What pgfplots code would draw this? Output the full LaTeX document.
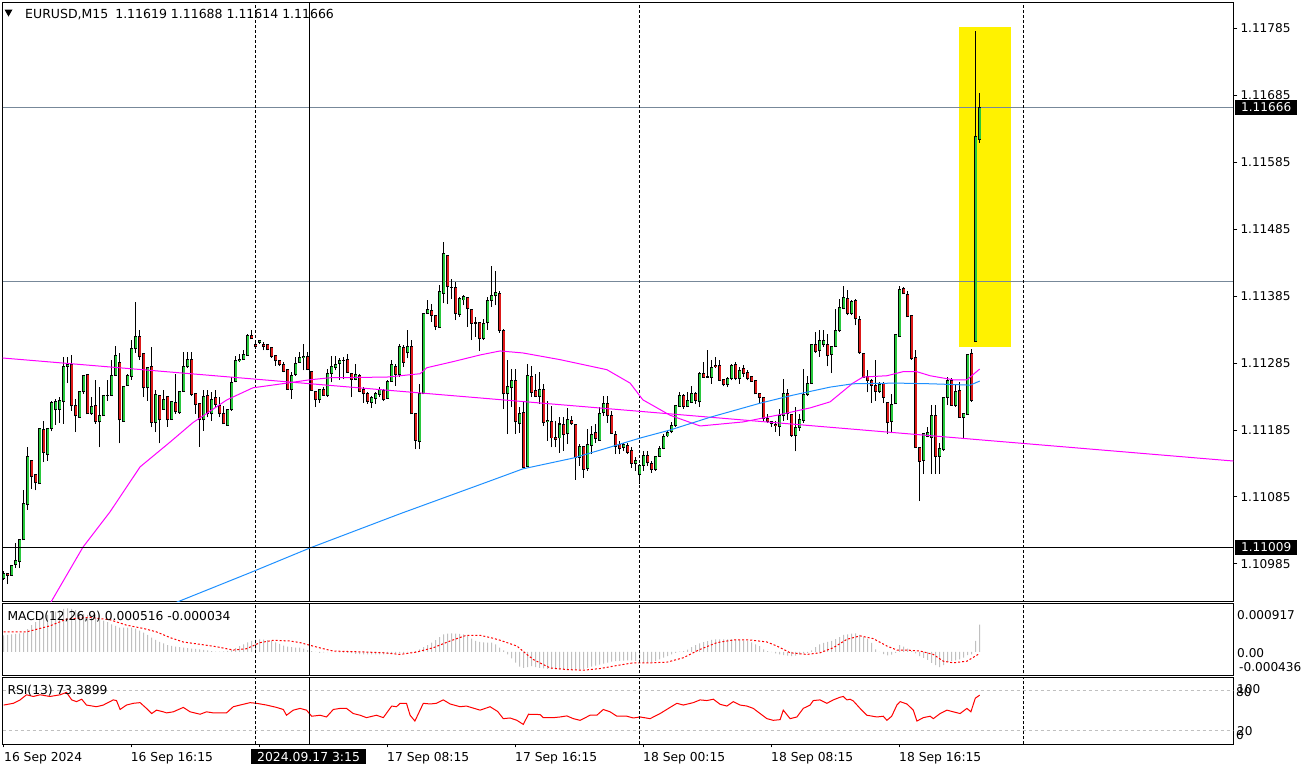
\documentclass[border=0pt]{standalone}
\usepackage{fontspec}
\setmainfont{DejaVu Sans}
\usepackage{pgfplots}
\usepackage{pgfplotstable}
\pgfplotsset{compat=1.18}
\definecolor{bullc}{RGB}{40,200,60}
\definecolor{bearc}{RGB}{220,25,25}
\definecolor{maP}{RGB}{255,0,255}
\definecolor{maB}{RGB}{30,144,255}
\definecolor{histc}{RGB}{192,192,192}
\definecolor{lineg}{RGB}{119,136,153}

\pgfplotstableread{
i o h l c
0 1.10963 1.10974 1.10961 1.10971
1 1.10971 1.10972 1.10955 1.10968
2 1.10968 1.10983 1.10968 1.10983
3 1.10984 1.11016 1.10979 1.10991
4 1.10988 1.11021 1.10979 1.11021
5 1.11021 1.11096 1.11021 1.11075
6 1.11074 1.11159 1.11066 1.11145
7 1.11140 1.11140 1.11097 1.11116
8 1.11118 1.11118 1.11095 1.11106
9 1.11105 1.11187 1.11105 1.11187
10 1.11186 1.11198 1.11137 1.11151
11 1.11149 1.11188 1.11139 1.11188
12 1.11187 1.11228 1.11183 1.11226
13 1.11215 1.11232 1.11193 1.11228
14 1.11216 1.11234 1.11196 1.11229
15 1.11227 1.11294 1.11194 1.11280
16 1.11280 1.11294 1.11255 1.11283
17 1.11283 1.11297 1.11214 1.11221
18 1.11221 1.11232 1.11182 1.11206
19 1.11204 1.11242 1.11204 1.11242
20 1.11242 1.11267 1.11239 1.11267
21 1.11268 1.11269 1.11209 1.11209
22 1.11209 1.11234 1.11208 1.11220
23 1.11221 1.11259 1.11194 1.11197
24 1.11197 1.11249 1.11159 1.11206
25 1.11206 1.11236 1.11206 1.11236
26 1.11236 1.11259 1.11229 1.11237
27 1.11237 1.11289 1.11237 1.11267
28 1.11267 1.11310 1.11267 1.11296
29 1.11286 1.11300 1.11165 1.11200
30 1.11198 1.11250 1.11198 1.11250
31 1.11251 1.11269 1.11251 1.11266
32 1.11265 1.11320 1.11260 1.11306
33 1.11306 1.11376 1.11300 1.11325
34 1.11325 1.11335 1.11290 1.11294
35 1.11299 1.11299 1.11234 1.11248
36 1.11248 1.11278 1.11229 1.11278
37 1.11280 1.11309 1.11189 1.11196
38 1.11196 1.11244 1.11182 1.11238
39 1.11236 1.11236 1.11165 1.11200
40 1.11216 1.11244 1.11215 1.11230
41 1.11235 1.11235 1.11190 1.11200
42 1.11201 1.11228 1.11201 1.11228
43 1.11226 1.11269 1.11209 1.11212
44 1.11211 1.11243 1.11209 1.11243
45 1.11243 1.11302 1.11243 1.11280
46 1.11279 1.11302 1.11278 1.11291
47 1.11290 1.11302 1.11236 1.11238
48 1.11239 1.11239 1.11209 1.11223
49 1.11224 1.11224 1.11160 1.11200
50 1.11200 1.11244 1.11184 1.11235
51 1.11236 1.11244 1.11204 1.11209
52 1.11209 1.11241 1.11199 1.11231
53 1.11233 1.11244 1.11219 1.11223
54 1.11221 1.11234 1.11204 1.11209
55 1.11209 1.11221 1.11194 1.11194
56 1.11192 1.11216 1.11192 1.11216
57 1.11215 1.11264 1.11214 1.11256
58 1.11257 1.11296 1.11256 1.11289
59 1.11288 1.11299 1.11286 1.11291
60 1.11290 1.11304 1.11290 1.11298
61 1.11296 1.11329 1.11296 1.11326
62 1.11326 1.11334 1.11321 1.11321
63 1.11313 1.11316 1.11306 1.11309
64 1.11316 1.11320 1.11314 1.11319
65 1.11312 1.11316 1.11304 1.11310
66 1.11312 1.11314 1.11304 1.11305
67 1.11308 1.11308 1.11293 1.11295
68 1.11296 1.11296 1.11281 1.11288
69 1.11289 1.11289 1.11281 1.11282
70 1.11283 1.11286 1.11271 1.11273
71 1.11275 1.11275 1.11246 1.11246
72 1.11246 1.11271 1.11232 1.11267
73 1.11268 1.11294 1.11266 1.11285
74 1.11286 1.11301 1.11286 1.11294
75 1.11293 1.11314 1.11274 1.11295
76 1.11295 1.11301 1.11274 1.11275
77 1.11273 1.11273 1.11244 1.11244
78 1.11242 1.11242 1.11219 1.11230
79 1.11230 1.11246 1.11226 1.11246
80 1.11246 1.11249 1.11236 1.11237
81 1.11237 1.11276 1.11235 1.11269
82 1.11270 1.11296 1.11256 1.11280
83 1.11278 1.11295 1.11274 1.11283
84 1.11284 1.11293 1.11260 1.11289
85 1.11289 1.11294 1.11261 1.11289
86 1.11290 1.11299 1.11270 1.11271
87 1.11270 1.11270 1.11234 1.11261
88 1.11261 1.11284 1.11259 1.11268
89 1.11266 1.11269 1.11241 1.11243
90 1.11245 1.11249 1.11226 1.11239
91 1.11239 1.11241 1.11224 1.11228
92 1.11226 1.11236 1.11218 1.11233
93 1.11232 1.11241 1.11224 1.11239
94 1.11238 1.11249 1.11234 1.11245
95 1.11244 1.11246 1.11228 1.11231
96 1.11232 1.11259 1.11231 1.11258
97 1.11258 1.11290 1.11257 1.11283
98 1.11280 1.11284 1.11251 1.11268
99 1.11268 1.11314 1.11264 1.11309
100 1.11308 1.11312 1.11279 1.11286
101 1.11300 1.11335 1.11292 1.11310
102 1.11310 1.11319 1.11209 1.11209
103 1.11210 1.11210 1.11156 1.11170
104 1.11168 1.11253 1.11156 1.11239
105 1.11239 1.11360 1.11238 1.11359
106 1.11359 1.11379 1.11358 1.11365
107 1.11364 1.11373 1.11346 1.11356
108 1.11356 1.11357 1.11334 1.11339
109 1.11338 1.11401 1.11338 1.11392
110 1.11389 1.11465 1.11374 1.11449
111 1.11445 1.11446 1.11373 1.11399
112 1.11398 1.11411 1.11381 1.11398
113 1.11398 1.11406 1.11349 1.11359
114 1.11358 1.11384 1.11354 1.11381
115 1.11379 1.11386 1.11371 1.11385
116 1.11383 1.11384 1.11339 1.11366
117 1.11365 1.11365 1.11319 1.11344
118 1.11344 1.11354 1.11324 1.11343
119 1.11345 1.11346 1.11303 1.11321
120 1.11321 1.11351 1.11319 1.11344
121 1.11345 1.11384 1.11335 1.11378
122 1.11378 1.11430 1.11369 1.11386
123 1.11385 1.11422 1.11371 1.11391
124 1.11389 1.11392 1.11330 1.11334
125 1.11334 1.11336 1.11216 1.11239
126 1.11239 1.11290 1.11179 1.11250
127 1.11248 1.11276 1.11219 1.11259
128 1.11259 1.11276 1.11179 1.11197
129 1.11195 1.11219 1.11181 1.11210
130 1.11211 1.11229 1.11129 1.11129
131 1.11131 1.11284 1.11131 1.11266
132 1.11265 1.11281 1.11234 1.11241
133 1.11244 1.11269 1.11234 1.11235
134 1.11235 1.11271 1.11224 1.11245
135 1.11246 1.11254 1.11191 1.11196
136 1.11197 1.11229 1.11169 1.11199
137 1.11198 1.11221 1.11159 1.11173
138 1.11174 1.11199 1.11159 1.11171
139 1.11173 1.11204 1.11151 1.11194
140 1.11194 1.11204 1.11154 1.11178
141 1.11179 1.11218 1.11164 1.11200
142 1.11199 1.11206 1.11193 1.11194
143 1.11194 1.11194 1.11111 1.11144
144 1.11144 1.11164 1.11131 1.11160
145 1.11160 1.11161 1.11114 1.11126
146 1.11127 1.11186 1.11124 1.11163
147 1.11162 1.11191 1.11149 1.11179
148 1.11181 1.11194 1.11166 1.11172
149 1.11170 1.11219 1.11169 1.11210
150 1.11211 1.11236 1.11206 1.11225
151 1.11224 1.11236 1.11196 1.11206
152 1.11207 1.11214 1.11179 1.11180
153 1.11179 1.11184 1.11149 1.11161
154 1.11163 1.11169 1.11149 1.11157
155 1.11159 1.11166 1.11153 1.11163
156 1.11162 1.11166 1.11149 1.11152
157 1.11154 1.11159 1.11129 1.11135
158 1.11135 1.11144 1.11124 1.11139
159 1.11118 1.11134 1.11104 1.11132
160 1.11132 1.11154 1.11124 1.11147
161 1.11147 1.11154 1.11131 1.11136
162 1.11135 1.11139 1.11121 1.11126
163 1.11126 1.11146 1.11124 1.11146
164 1.11146 1.11161 1.11145 1.11157
165 1.11158 1.11179 1.11156 1.11176
166 1.11176 1.11185 1.11174 1.11182
167 1.11182 1.11197 1.11180 1.11192
168 1.11191 1.11221 1.11189 1.11221
169 1.11220 1.11242 1.11219 1.11237
170 1.11237 1.11239 1.11217 1.11220
171 1.11220 1.11241 1.11219 1.11229
172 1.11226 1.11250 1.11225 1.11239
173 1.11240 1.11241 1.11224 1.11229
174 1.11227 1.11271 1.11219 1.11270
175 1.11270 1.11286 1.11264 1.11264
176 1.11264 1.11305 1.11263 1.11265
177 1.11264 1.11289 1.11254 1.11279
178 1.11281 1.11294 1.11277 1.11279
179 1.11281 1.11289 1.11258 1.11259
180 1.11260 1.11261 1.11250 1.11253
181 1.11253 1.11264 1.11249 1.11262
182 1.11262 1.11284 1.11259 1.11282
183 1.11283 1.11287 1.11259 1.11262
184 1.11262 1.11279 1.11254 1.11274
185 1.11277 1.11282 1.11264 1.11270
186 1.11271 1.11274 1.11259 1.11262
187 1.11265 1.11266 1.11257 1.11258
188 1.11259 1.11260 1.11239 1.11239
189 1.11239 1.11240 1.11226 1.11234
190 1.11233 1.11234 1.11199 1.11202
191 1.11202 1.11209 1.11196 1.11198
192 1.11198 1.11199 1.11189 1.11194
193 1.11194 1.11199 1.11182 1.11192
194 1.11190 1.11216 1.11176 1.11206
195 1.11206 1.11261 1.11199 1.11239
196 1.11240 1.11246 1.11200 1.11209
197 1.11208 1.11209 1.11175 1.11177
198 1.11177 1.11219 1.11153 1.11189
199 1.11188 1.11209 1.11184 1.11200
200 1.11199 1.11276 1.11196 1.11238
201 1.11238 1.11266 1.11236 1.11254
202 1.11255 1.11314 1.11254 1.11313
203 1.11313 1.11331 1.11300 1.11302
204 1.11303 1.11334 1.11294 1.11318
205 1.11312 1.11334 1.11309 1.11318
206 1.11313 1.11329 1.11280 1.11296
207 1.11298 1.11310 1.11270 1.11310
208 1.11310 1.11366 1.11310 1.11334
209 1.11333 1.11380 1.11331 1.11368
210 1.11367 1.11400 1.11365 1.11383
211 1.11381 1.11394 1.11356 1.11359
212 1.11359 1.11379 1.11356 1.11377
213 1.11379 1.11380 1.11341 1.11351
214 1.11350 1.11355 1.11299 1.11300
215 1.11299 1.11299 1.11263 1.11264
216 1.11265 1.11274 1.11241 1.11259
217 1.11259 1.11261 1.11226 1.11251
218 1.11251 1.11289 1.11229 1.11243
219 1.11243 1.11256 1.11240 1.11253
220 1.11254 1.11256 1.11225 1.11234
221 1.11226 1.11226 1.11179 1.11196
222 1.11198 1.11239 1.11180 1.11223
223 1.11224 1.11328 1.11224 1.11328
224 1.11325 1.11400 1.11325 1.11395
225 1.11396 1.11398 1.11388 1.11388
226 1.11388 1.11393 1.11354 1.11354
227 1.11356 1.11356 1.11290 1.11291
228 1.11293 1.11304 1.11158 1.11159
229 1.11159 1.11159 1.11079 1.11138
230 1.11140 1.11181 1.11119 1.11180
231 1.11175 1.11189 1.11174 1.11182
232 1.11174 1.11222 1.11119 1.11206
233 1.11206 1.11222 1.11119 1.11146
234 1.11146 1.11166 1.11120 1.11158
235 1.11156 1.11234 1.11154 1.11234
236 1.11234 1.11264 1.11222 1.11259
237 1.11259 1.11262 1.11222 1.11222
238 1.11222 1.11254 1.11219 1.11243
239 1.11244 1.11256 1.11203 1.11204
240 1.11204 1.11209 1.11171 1.11209
241 1.11208 1.11298 1.11208 1.11298
242 1.11299 1.11306 1.11227 1.11229
243 1.11317 1.11780 1.11317 1.11623
244 1.11619 1.11688 1.11614 1.11666
}\candles

\pgfplotsset{
  chartpanel/.style={scale only axis, anchor=north west, width=1230.8pt,
    xmin=-0.3, xmax=307.4, axis line style={line width=1pt},
    tick style={black, line width=1pt}},
  sepline/.style={black, line width=1pt, dash pattern=on 3pt off 2pt},
}

\begin{document}
\begin{tikzpicture}
\begin{axis}[chartpanel, at={(2.5pt,-2.5pt)}, height=599.2pt,
  ymin=1.109287, ymax=1.118231, xtick=\empty,
  ytick={1.10985,1.11085,1.11185,1.11285,1.11385,1.11485,1.11585,1.11685,1.11785},
  yticklabels={1.10985,1.11085,1.11185,1.11285,1.11385,1.11485,1.11585,1.11685,1.11785},
  ytick pos=right, yticklabel pos=right, tick align=outside, major tick length=4pt,
  yticklabel style={anchor=west, inner sep=0pt, xshift=3pt, font=\fontsize{12.1}{14}\selectfont}]
% highlight rectangle
\addplot[fill=yellow, draw=none] coordinates {(238.8,1.113093) (251.8,1.113093) (251.8,1.117869) (238.8,1.117869)} -- cycle;
% horizontal lines
\addplot[lineg, line width=1pt] coordinates {(-0.3,1.11666) (307.4,1.11666)};
\addplot[lineg, line width=1pt] coordinates {(-0.3,1.11406) (307.4,1.11406)};
% period separators and crosshair
\addplot[sepline] coordinates {(63,1.1092) (63,1.1183)};
\addplot[sepline] coordinates {(158.9,1.1092) (158.9,1.1183)};
\addplot[sepline] coordinates {(254.9,1.1092) (254.9,1.1183)};
\addplot[black, line width=1pt] coordinates {(76.4,1.1092) (76.4,1.1183)};
% candles: wicks
\addplot[black, line width=1pt, -, quiver={u=0, v={\thisrow{h}-\thisrow{l}}}]
  table[x=i, y=l] {\candles};
% bodies outline
\addplot[black, line width=3.4pt, -, quiver={u=0, v={abs(\thisrow{c}-\thisrow{o})+0.000014}}]
  table[x=i, y expr={min(\thisrow{o},\thisrow{c})-0.000007}] {\candles};
% bull fill
\addplot[bullc, line width=1.6pt, -, quiver={u=0, v={ifthenelse(\thisrow{c}>\thisrow{o}, max(\thisrow{c}-\thisrow{o}-0.000016,0), 0)}}]
  table[x=i, y expr={min(\thisrow{o},\thisrow{c})+0.000008}] {\candles};
% bear fill
\addplot[bearc, line width=1.6pt, -, quiver={u=0, v={ifthenelse(\thisrow{c}<\thisrow{o}, max(\thisrow{o}-\thisrow{c}-0.000016,0), 0)}}]
  table[x=i, y expr={min(\thisrow{o},\thisrow{c})+0.000008}] {\candles};
% trend line
\addplot[maP, line width=1pt] coordinates {(-0.3,1.112925) (307.4,1.111387)};
% moving average (magenta)
\addplot[maP, line width=1pt] coordinates {
(9.1,1.10901) (12.1,1.10931) (19.8,1.11010) (26.6,1.11063) (34.1,1.11130) (41.6,1.11167)
(47.3,1.11196) (55.8,1.11230) (62.3,1.11248) (70.8,1.11255) (76.6,1.11260) (81.6,1.11263)
(95.8,1.11264) (104.1,1.11269) (105.8,1.11278) (112.3,1.11287) (119.1,1.11297) (124.1,1.11303)
(129.8,1.11300) (139.1,1.11290) (150.8,1.11275) (156.6,1.11255) (159.8,1.11230) (166.6,1.11207)
(174.1,1.11191) (184.8,1.11197) (193.3,1.11207) (201.6,1.11218) (206.6,1.11227) (212.3,1.11255)
(214.8,1.11264) (220.8,1.11266) (224.8,1.11272) (228.3,1.11272) (231.6,1.11266) (237.3,1.11260)
(240.8,1.11260) (244,1.11276)};
% moving average (blue)
\addplot[maB, line width=1pt] coordinates {
(34.1,1.10906) (44.1,1.10930) (61.6,1.10972) (76.6,1.11009) (99.1,1.11060) (121.6,1.11109)
(129.8,1.11127) (142.3,1.11143) (150.8,1.11158) (159.1,1.11173) (166.6,1.11185) (176.6,1.11204)
(189.1,1.11225) (197.3,1.11237) (206.6,1.11249) (212.3,1.11254) (223.3,1.11255) (231.6,1.11254)
(241.6,1.11252) (244,1.11258)};
% crosshair horizontal
\addplot[black, line width=1pt] coordinates {(-0.3,1.11009) (307.4,1.11009)};
\end{axis}

% MACD panel
\begin{axis}[chartpanel, at={(2.5pt,-603.3pt)}, height=71.7pt,
  ymin=-0.000436, ymax=0.000917, xtick=\empty, ytick=\empty]
\addplot[ybar, bar width=1pt, fill=histc, draw=none] coordinates {
(0,314e-6) (1,320e-6) (2,330e-6) (3,340e-6) (4,350e-6) (5,365e-6) (6,430e-6) (7,505e-6) (8,560e-6) (9,620e-6)
(10,670e-6) (11,700e-6) (12,730e-6) (13,760e-6) (14,790e-6) (15,810e-6) (16,822e-6) (17,810e-6) (18,790e-6) (19,760e-6)
(20,720e-6) (21,700e-6) (22,680e-6) (23,650e-6) (24,620e-6) (25,590e-6) (26,560e-6) (27,520e-6) (28,490e-6) (29,460e-6)
(30,460e-6) (31,460e-6) (32,460e-6) (33,440e-6) (34,400e-6) (35,365e-6) (36,320e-6) (37,270e-6) (38,225e-6) (39,190e-6)
(40,160e-6) (41,130e-6) (42,115e-6) (43,100e-6) (44,90e-6) (45,80e-6) (46,70e-6) (47,60e-6) (48,55e-6) (49,48e-6)
(50,40e-6) (51,30e-6) (52,15e-6) (53,5e-6) (54,5e-6) (55,10e-6) (56,20e-6) (57,35e-6) (58,70e-6) (59,110e-6)
(60,143e-6) (61,180e-6) (62,210e-6) (63,230e-6) (64,238e-6) (65,230e-6) (66,220e-6) (67,206e-6) (68,180e-6) (69,150e-6)
(70,120e-6) (71,100e-6) (72,90e-6) (73,80e-6) (74,79e-6) (75,60e-6) (76,35e-6) (77,15e-6) (78,2e-6) (79,-16e-6)
(80,-10e-6) (81,-5e-6) (82,-3e-6) (83,-5e-6) (84,-10e-6) (85,-14e-6) (86,-16e-6) (87,-25e-6) (88,-35e-6) (89,-42e-6)
(90,-48e-6) (91,-48e-6) (92,-48e-6) (93,-48e-6) (94,-48e-6) (95,-45e-6) (96,-40e-6) (97,-35e-6) (98,-30e-6) (99,-29e-6)
(100,-20e-6) (101,-10e-6) (102,2e-6) (103,16e-6) (104,50e-6) (105,90e-6) (106,130e-6) (107,175e-6) (108,220e-6) (109,280e-6)
(110,333e-6) (111,345e-6) (112,352e-6) (113,345e-6) (114,340e-6) (115,333e-6) (116,300e-6) (117,250e-6) (118,210e-6) (119,187e-6)
(120,180e-6) (121,175e-6) (122,175e-6) (123,140e-6) (124,80e-6) (125,30e-6) (126,-48e-6) (127,-120e-6) (128,-200e-6) (129,-280e-6)
(130,-302e-6) (131,-285e-6) (132,-270e-6) (133,-285e-6) (134,-300e-6) (135,-310e-6) (136,-321e-6) (137,-325e-6) (138,-330e-6) (139,-333e-6)
(140,-333e-6) (141,-333e-6) (142,-333e-6) (143,-333e-6) (144,-333e-6) (145,-320e-6) (146,-300e-6) (147,-280e-6) (148,-260e-6) (149,-238e-6)
(150,-220e-6) (151,-200e-6) (152,-185e-6) (153,-175e-6) (154,-170e-6) (155,-165e-6) (156,-162e-6) (157,-162e-6) (158,-170e-6) (159,-185e-6)
(160,-200e-6) (161,-206e-6) (162,-190e-6) (163,-170e-6) (164,-143e-6) (165,-110e-6) (166,-80e-6) (167,-48e-6) (168,-20e-6) (169,5e-6)
(170,16e-6) (171,45e-6) (172,92e-6) (173,130e-6) (174,162e-6) (175,185e-6) (176,205e-6) (177,225e-6) (178,238e-6) (179,238e-6)
(180,238e-6) (181,238e-6) (182,238e-6) (183,230e-6) (184,222e-6) (185,215e-6) (186,206e-6) (187,180e-6) (188,140e-6) (189,111e-6)
(190,50e-6) (191,16e-6) (192,-5e-6) (193,-29e-6) (194,-45e-6) (195,-60e-6) (196,-70e-6) (197,-79e-6) (198,-70e-6) (199,-50e-6)
(200,-30e-6) (201,-16e-6) (202,30e-6) (203,90e-6) (204,143e-6) (205,170e-6) (206,190e-6) (207,206e-6) (208,240e-6) (209,280e-6)
(210,320e-6) (211,333e-6) (212,345e-6) (213,352e-6) (214,320e-6) (215,280e-6) (216,251e-6) (217,170e-6) (218,48e-6) (219,2e-6)
(220,-40e-6) (221,-67e-6) (222,-50e-6) (223,-16e-6) (224,130e-6) (225,100e-6) (226,60e-6) (227,16e-6) (228,-30e-6) (229,-80e-6)
(230,-111e-6) (231,-150e-6) (232,-206e-6) (233,-250e-6) (234,-289e-6) (235,-250e-6) (236,-194e-6) (237,-175e-6) (238,-160e-6) (239,-143e-6)
(240,-110e-6) (241,-60e-6) (242,-48e-6) (243,206e-6) (244,516e-6)};
\addplot[red, line width=1pt, dash pattern=on 2pt off 2pt] coordinates {
(0,378e-6) (5.7,378e-6) (11.6,492e-6) (15.7,619e-6) (21.6,651e-6) (26.6,606e-6) (30.7,505e-6) (35,441e-6)
(38.2,378e-6) (41.6,270e-6) (44.9,187e-6) (49.1,143e-6) (53.2,98e-6) (57.4,35e-6) (60.7,60e-6) (64.1,175e-6)
(67.4,219e-6) (71.6,206e-6) (74.1,175e-6) (76.6,124e-6) (79.9,60e-6) (82.4,16e-6) (90.7,-3e-6) (94.9,-16e-6)
(99.1,-48e-6) (103.2,-3e-6) (107.4,79e-6) (111.6,206e-6) (115.7,314e-6) (119.1,314e-6) (122.4,257e-6) (124.1,220e-6)
(128.3,111e-6) (130.8,-48e-6) (132.4,-143e-6) (136.6,-302e-6) (140.8,-333e-6) (144.9,-346e-6) (149.1,-314e-6) (153.3,-257e-6)
(157.4,-206e-6) (161.6,-206e-6) (165.8,-194e-6) (169.9,-111e-6) (174.1,48e-6) (178.3,175e-6) (182.4,225e-6) (186.6,225e-6)
(190.8,187e-6) (193.3,111e-6) (196.6,-16e-6) (200.8,-48e-6) (204.1,-16e-6) (207.4,79e-6) (210.8,238e-6) (214.1,302e-6)
(217.4,251e-6) (220.8,111e-6) (223.3,35e-6) (225.8,35e-6) (229.1,16e-6) (232.4,-48e-6) (234.9,-175e-6) (237.4,-206e-6)
(240.8,-175e-6) (243.9,-34e-6)};
\addplot[sepline] coordinates {(63,-0.0005) (63,0.001)};
\addplot[sepline] coordinates {(158.9,-0.0005) (158.9,0.001)};
\addplot[sepline] coordinates {(254.9,-0.0005) (254.9,0.001)};
\addplot[black, line width=1pt] coordinates {(76.4,-0.0005) (76.4,0.001)};
\end{axis}

% RSI panel
\begin{axis}[chartpanel, at={(2.5pt,-677.3pt)}, height=67pt,
  ymin=0, ymax=100, ytick=\empty,
  xtick={0,32,64,96,128,160,192,224}, xticklabels={,,,,,,,}, xtick pos=bottom,
  tick align=outside, major tick length=3pt]
\addplot[histc, line width=1pt, dash pattern=on 3pt off 3pt] coordinates {(-0.3,80) (307.4,80)};
\addplot[histc, line width=1pt, dash pattern=on 3pt off 3pt] coordinates {(-0.3,20) (307.4,20)};
\addplot[red, line width=1pt] coordinates {
(0,58.6) (2.4,61.2) (4.1,66.3) (5.7,73.9) (7.4,71.4) (9.1,73.9) (11.6,71.4) (14.1,73.9) (15.7,77.5) (17,66.3)
(18.2,63.7) (19.5,67.3) (20.7,58.6) (23.2,56.1) (24.9,58.6) (27.4,66.3) (28.2,65.3) (29.1,52.0) (30.7,58.6) (32.4,61.2)
(34.1,62.2) (35.7,53.6) (37,45.9) (38.2,51.0) (39.9,48.5) (40.7,46.9) (42.4,48.5) (44.9,55.1) (46.6,48.5) (49.1,44.9)
(50.7,48.5) (52.4,46.9) (55.7,46.9) (57.4,56.1) (59.1,58.6) (61.6,62.2) (63.2,61.2) (65.7,58.6) (68.2,55.1) (69.9,52.0)
(70.7,43.4) (72.4,51.0) (74.1,53.6) (75.7,51.0) (77,41.9) (79.1,43.4) (80.7,40.8) (82.4,52.0) (84.1,53.6) (85.7,53.6)
(87.4,45.9) (89.1,43.4) (90.7,39.8) (93.2,43.4) (94.9,39.8) (97,57.1) (98.2,56.1) (99.1,61.2) (100.7,61.2) (101.6,43.4)
(102.8,34.7) (104.9,61.2) (106.6,60.2) (108.2,61.2) (109.9,66.3) (111.6,60.2) (114.1,56.1) (115.7,57.1) (119.1,51.0) (121.6,56.1)
(123.5,49.0) (124.9,38.3) (126.6,39.3) (128.3,35.8) (129.9,29.7) (131.2,44.9) (134.1,44.4) (134.9,39.8) (137.4,39.8) (139.1,40.8)
(140.8,42.4) (142.4,38.3) (144.1,35.8) (146.6,43.4) (148.3,43.4) (149.9,52.0) (151.6,48.5) (153.3,41.9) (155.8,41.9) (157.4,39.3)
(159.1,40.8) (161.6,38.3) (164.1,45.9) (166.6,55.1) (168.3,61.2) (169.9,58.6) (172.4,62.2) (174.1,66.3) (175.8,65.3) (177.4,67.3)
(179.1,59.7) (180.8,57.1) (182.4,63.7) (184.1,58.6) (185.8,57.1) (187.4,53.6) (189.1,45.9) (190.8,38.3) (192.4,35.8) (194.1,36.8)
(194.9,51.0) (196.6,38.3) (198.3,40.8) (199.9,53.6) (201.6,58.6) (202.4,65.3) (204.1,66.3) (205.8,61.2) (207.4,66.3) (209.1,70.3)
(209.9,71.4) (210.8,66.3) (211.6,67.3) (212.4,64.7) (214.1,53.6) (215.8,43.4) (218.3,40.8) (219.9,41.9) (220.8,35.8) (222,41.9)
(223.3,58.6) (224.1,63.7) (225.8,60.2) (227.4,51.0) (228.3,34.7) (229.9,39.8) (231.6,41.9) (232.4,38.3) (234.1,45.9) (235.8,51.0)
(237.4,48.5) (239.1,45.9) (240.8,53.6) (241.8,48.5) (242.9,68.8) (244,73.39)};
\addplot[sepline] coordinates {(63,0) (63,100)};
\addplot[sepline] coordinates {(158.9,0) (158.9,100)};
\addplot[sepline] coordinates {(254.9,0) (254.9,100)};
\addplot[black, line width=1pt] coordinates {(76.4,0) (76.4,100)};
\end{axis}

% texts
\fill[black] (4.5pt,-9.5pt) -- (12.5pt,-9.5pt) -- (8.5pt,-16.5pt) -- cycle;
\node[anchor=base west, inner sep=0pt, font=\fontsize{12.5}{14}\selectfont] at (25pt,-18.5pt)
  {EURUSD,M15\hspace{7pt}1.11619 1.11688 1.11614 1.11666};
\node[anchor=base west, inner sep=0pt, font=\fontsize{12.3}{14}\selectfont] at (7.3pt,-620.5pt)
  {MACD(12,26,9) 0.000516 -0.000034};
\node[anchor=base west, inner sep=0pt, font=\fontsize{12.3}{14}\selectfont] at (7.3pt,-694.7pt)
  {RSI(13) 73.3899};
% highlighted price labels
\node[anchor=west, fill=black, text=white, inner sep=0pt, minimum width=62pt, minimum height=15pt,
  font=\fontsize{12.1}{14}\selectfont] at (1235pt,-107.5pt) {1.11666};
\node[anchor=west, fill=black, text=white, inner sep=0pt, minimum width=62pt, minimum height=15pt,
  font=\fontsize{12.1}{14}\selectfont] at (1235pt,-547.5pt) {1.11009};
% MACD / RSI scale labels
\begin{scope}[every node/.style={anchor=west, inner sep=0pt, font=\fontsize{12.1}{14}\selectfont}]
\node at (1237pt,-615pt) {0.000917};
\node at (1237pt,-653.5pt) {0.00};
\node at (1239pt,-667pt) {-0.000436};
\node at (1237pt,-689pt) {100};
\node at (1236pt,-692pt) {80};
\node at (1237pt,-731pt) {20};
\node at (1236pt,-735pt) {0};
\end{scope}
% time labels
\begin{scope}[every node/.style={anchor=base west, inner sep=0pt, font=\fontsize{12.3}{14}\selectfont}]
\node at (4pt,-761.7pt) {16 Sep 2024};
\node at (130.7pt,-761.7pt) {16 Sep 16:15};
\node at (387pt,-761.7pt) {17 Sep 08:15};
\node at (515pt,-761.7pt) {17 Sep 16:15};
\node at (643pt,-761.7pt) {18 Sep 00:15};
\node at (771pt,-761.7pt) {18 Sep 08:15};
\node at (899pt,-761.7pt) {18 Sep 16:15};
\end{scope}
\node[anchor=west, fill=black, text=white, inner sep=0pt, minimum width=114.7pt, minimum height=15.3pt,
  font=\fontsize{12.4}{14}\selectfont] at (251pt,-756.7pt) {2024.09.17 3:15};
\pgfresetboundingbox
\path[use as bounding box] (0,0) rectangle (1305pt,-771pt);
\end{tikzpicture}
\end{document}
